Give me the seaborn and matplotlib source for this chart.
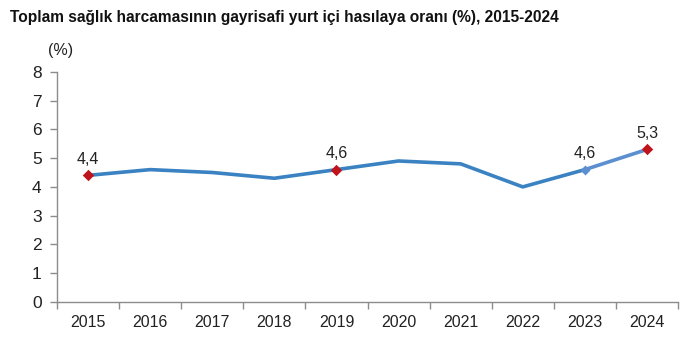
import matplotlib
matplotlib.use("Agg")
import matplotlib.pyplot as plt
import seaborn as sns
import pandas as pd
from matplotlib.ticker import FixedLocator

years = ["2015", "2016", "2017", "2018", "2019", "2020", "2021", "2022", "2023", "2024"]
ratio = [4.4, 4.6, 4.5, 4.3, 4.6, 4.9, 4.8, 4.0, 4.6, 5.3]
labelled_years = ["2015", "2019", "2023", "2024"]
red_years = ["2015", "2019", "2024"]

sns.set_theme(style="white")
plt.rcParams["font.family"] = ["Liberation Sans", "DejaVu Sans"]

df = pd.DataFrame({"year": years, "ratio": ratio})
pos = {y: i for i, y in enumerate(years)}
df["x"] = [pos[y] for y in years]

fig = plt.figure(figsize=(7.0, 3.45), dpi=100)
ax = fig.add_axes([0.0814, 0.1246, 0.8872, 0.6674])

line_blue = "#3a82c2"
light_blue = "#5b8fd0"
red = "#c0141c"

main = df[df["x"] <= 8]
last = df[df["x"] >= 8]
sns.lineplot(data=main, x="x", y="ratio", ax=ax, color=line_blue, linewidth=2.6,
             sort=False, legend=False)
sns.lineplot(data=last, x="x", y="ratio", ax=ax, color=light_blue, linewidth=2.6,
             sort=False, legend=False)

reds = df[df["year"].isin(red_years)]
sns.scatterplot(data=reds, x="x", y="ratio", ax=ax, marker="D", s=34,
                color=red, edgecolor=red, linewidth=0, zorder=5, legend=False)
blue_pt = df[df["year"] == "2023"]
sns.scatterplot(data=blue_pt, x="x", y="ratio", ax=ax, marker="D", s=26,
                color=light_blue, edgecolor=light_blue, linewidth=0, zorder=5, legend=False)

for _, r in df[df["year"].isin(labelled_years)].iterrows():
    ax.annotate(f"{r['ratio']:.1f}".replace(".", ","), (r["x"], r["ratio"]),
                xytext=(0, 6), textcoords="offset points", ha="center", va="bottom",
                fontsize=11.5, color="#222222")

ax.set_xlim(-0.5, 9.5)
ax.set_ylim(0, 8)
ax.set_yticks(range(0, 9))
ax.set_xticks(range(len(years)))
ax.set_xticklabels(years)
ax.xaxis.set_minor_locator(FixedLocator([i - 0.5 for i in range(len(years) + 1)]))
ax.set_xlabel("")
ax.set_ylabel("")

for side in ["top", "right"]:
    ax.spines[side].set_visible(False)
for side in ["left", "bottom"]:
    ax.spines[side].set_color("#8c8c8c")
    ax.spines[side].set_linewidth(1.0)

ax.tick_params(axis="y", which="major", direction="out", length=5, width=1,
               color="#8c8c8c", left=True, labelsize=12.5, labelcolor="#222222", pad=6)
ax.tick_params(axis="x", which="major", length=0, labelsize=11.5,
               labelcolor="#222222", pad=9)
ax.tick_params(axis="x", which="minor", direction="out", length=5, width=1,
               color="#8c8c8c", bottom=True)

fig.text(0.014, 0.95, "Toplam sağlık harcamasının gayrisafi yurt içi hasılaya oranı (%), 2015-2024",
         fontsize=11.2, fontweight="bold", ha="left", va="center", color="#111111")
fig.text(0.086, 0.855, "(%)", fontsize=11.5, ha="center", va="center", color="#222222")

fig.savefig("out.png", dpi=100)
